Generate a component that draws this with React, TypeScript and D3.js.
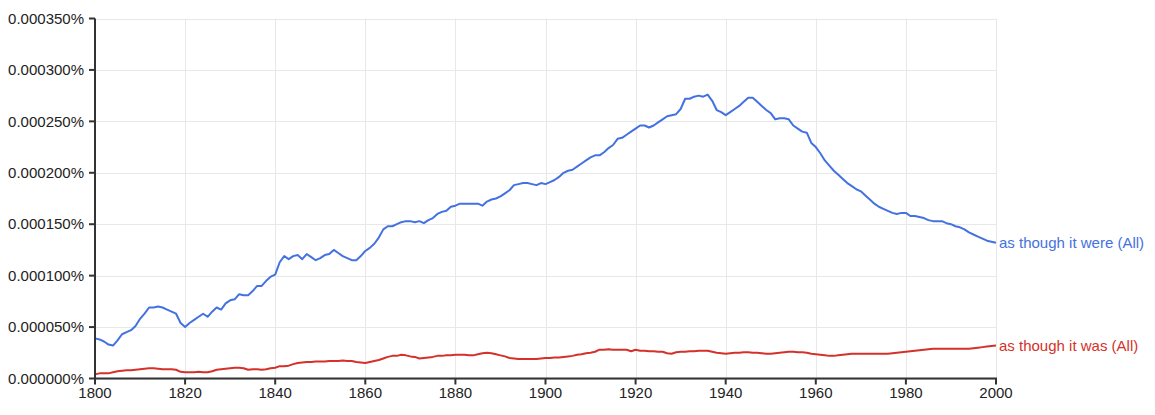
import React from "react";
import * as d3 from "d3";

const startYear = 1800;
// values in units of 0.000001 %
const wereValues = [
  39,38,36,33,32,37,43,45,47,51,
  58,63,69,69,70,69,67,65,63,54,
  50,54,57,60,63,60,65,69,67,73,
  76,77,82,81,81,85,90,90,95,99,
  101,113,119,116,119,120,116,121,118,115,
  117,120,121,125,122,119,117,115,115,119,
  124,127,131,137,145,148,148,150,152,153,
  153,152,153,151,154,156,160,162,163,167,
  168,170,170,170,170,170,168,172,174,175,
  177,180,183,188,189,190,190,189,188,190,
  189,191,193,196,200,202,203,206,209,212,
  215,217,217,220,224,227,233,234,237,240,
  243,246,246,244,246,249,252,255,256,257,
  262,272,272,274,275,274,276,270,261,259,
  256,259,262,265,269,273,273,269,265,261,
  258,252,253,253,252,246,243,240,239,229,
  225,219,212,207,202,198,194,190,187,184,
  182,178,174,170,167,165,163,161,160,161,
  161,158,158,157,156,154,153,153,153,151,
  150,148,147,145,142,140,138,136,134,133,
  132,
];
const wasValues = [
  4,5,5,5,6,7,7.5,8,8,8.5,
  9,9.5,10,10,9.5,9,9,9,8.5,6.5,
  6,6,6,6.5,6,6,7,8.5,9,9.5,
  10,10.5,10.5,10,8.5,9,9,8.5,9,10,
  10.5,12,12,12.5,14,15,15.5,16,16,16.5,
  16.5,16.5,17,17,17,17.5,17,17,16,15.5,
  15,16,17,18,19.5,21,22,22,23,22.5,
  21.5,21,19.5,20,20.5,21,22,22,22.5,22.5,
  23,23,23,22.5,22.5,23.5,24.5,25,24.5,23.5,
  22.5,21.5,20,19.5,19,19,19,19,19,19.5,
  20,20,20.5,20.5,21,21.5,22,23,23.5,24.5,
  25,26,28,28,28.5,28,28,28,28,26.5,
  28,27,27,26.5,26.5,26,26,24.5,24,25.5,
  26,26,26.5,26.5,27,27,27,26,25,24.5,
  24,24.5,25,25,25.5,25.5,25,25,24.5,24,
  24,24.5,25,25.5,26,26,25.5,25.5,25,24,
  23.5,23,22.5,22,22,22.5,23,23.5,24,24,
  24,24,24,24,24,24,24,24.5,25,25.5,
  26,26.5,27,27.5,28,28.5,29,29,29,29,
  29,29,29,29,29,29.5,30,30.5,31,31.5,
  32,
];
const seriesNames = ["as though it were (All)", "as though it was (All)"];
const seriesColors = ["#4372e0", "#d4312a"];
const yTicks = [0, 50, 100, 150, 200, 250, 300, 350];
const xTicks = [1800, 1820, 1840, 1860, 1880, 1900, 1920, 1940, 1960, 1980, 2000];

const W = 1155, H = 415;
const left = 95, right = 996, top = 18.5, bottom = 378.5;

export default function App() {
  const x = d3.scaleLinear().domain([1800, 2000]).range([left, right]);
  const y = d3.scaleLinear().domain([0, 350]).range([bottom, top]);
  const series = [wereValues, wasValues];
  const line = d3
    .line<number>()
    .x((_, i) => x(startYear + i))
    .y((d) => y(d));
  const fmt = (v: number) => (v / 1e6).toFixed(6) + "%";
  const font = "'Liberation Sans', Arial, sans-serif";
  return (
    <svg
      width={W}
      height={H}
      style={{ position: "fixed", left: 0, top: 0, background: "#fff" }}
      fontFamily={font}
    >
      <rect x={0} y={0} width={W} height={H} fill="#fff" />
      {yTicks.map((t) => (
        <line key={"gy" + t} x1={left} x2={right} y1={Math.round(y(t)) + 0.5} y2={Math.round(y(t)) + 0.5} stroke="#e8e8e8" />
      ))}
      {xTicks.map((t) => (
        <line key={"gx" + t} x1={Math.round(x(t)) + 0.5} x2={Math.round(x(t)) + 0.5} y1={top} y2={bottom} stroke="#e8e8e8" />
      ))}
      {series.map((s, i) => (
        <path key={"s" + i} d={line(s) || ""} fill="none" stroke={seriesColors[i]} strokeWidth={2} strokeLinejoin="round" />
      ))}
      <line x1={left} x2={left} y1={top} y2={bottom + 1} stroke="#333" strokeWidth={2} />
      <line x1={left - 1} x2={right + 1} y1={bottom} y2={bottom} stroke="#333" strokeWidth={2} />
      {yTicks.map((t) => (
        <g key={"ty" + t}>
          <line x1={left - 6} x2={left} y1={y(t)} y2={y(t)} stroke="#333" strokeWidth={2} />
          <text x={84} y={y(t)} dy="0.35em" textAnchor="end" fontSize={15} fill="#222">
            {fmt(t)}
          </text>
        </g>
      ))}
      {xTicks.map((t) => (
        <g key={"tx" + t}>
          <line x1={x(t)} x2={x(t)} y1={bottom} y2={bottom + 6} stroke="#333" strokeWidth={2} />
          <text x={x(t)} y={398} textAnchor="middle" fontSize={15} fill="#222">
            {t}
          </text>
        </g>
      ))}
      {series.map((s, i) => (
        <text key={"l" + i} x={999} y={y(s[s.length - 1])} dy="0.35em" fontSize={15} fill={seriesColors[i]}>
          {seriesNames[i]}
        </text>
      ))}
    </svg>
  );
}
